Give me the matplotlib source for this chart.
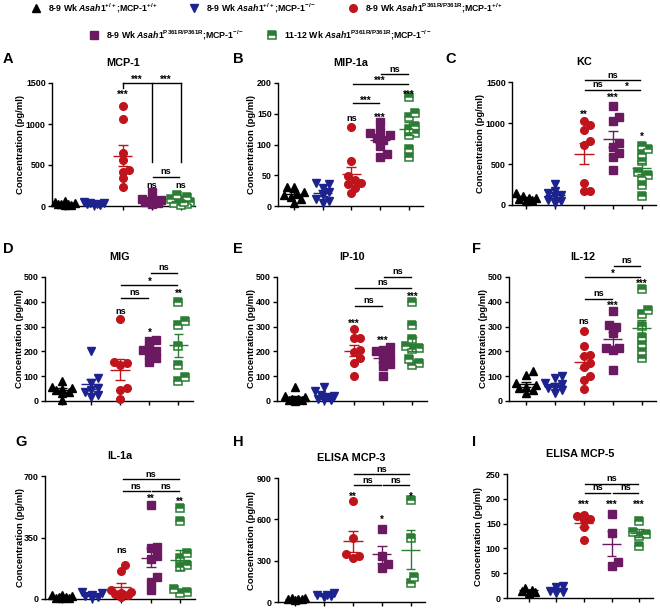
import numpy as np
import matplotlib
matplotlib.use('Agg')
import matplotlib.pyplot as plt
from matplotlib.lines import Line2D

plt.rcParams['font.family'] = ['Liberation Sans', 'DejaVu Sans']
plt.rcParams['font.weight'] = 'bold'
plt.rcParams['mathtext.fontset'] = 'custom'
plt.rcParams['mathtext.rm'] = 'Liberation Sans:bold'
plt.rcParams['mathtext.it'] = 'Liberation Sans:italic:bold'
plt.rcParams['mathtext.bf'] = 'Liberation Sans:bold'

# ---------------- groups ----------------
group_labels = [
    r"8-9 Wk $\mathit{Asah1}^{\mathrm{+/+}}$;MCP-1$^{\mathrm{+/+}}$",
    r"8-9 Wk $\mathit{Asah1}^{\mathrm{+/+}}$;MCP-1$^{\mathrm{-/-}}$",
    r"8-9 Wk $\mathit{Asah1}^{\mathrm{P361R/P361R}}$;MCP-1$^{\mathrm{+/+}}$",
    r"8-9 Wk $\mathit{Asah1}^{\mathrm{P361R/P361R}}$;MCP-1$^{\mathrm{-/-}}$",
    r"11-12 Wk $\mathit{Asah1}^{\mathrm{P361R/P361R}}$;MCP-1$^{\mathrm{-/-}}$",
]
group_colors = ['#000000', '#1c238f', '#c0141c', '#6b1a62', '#2b7d34']
group_markers = ['^', 'v', 'o', 's', 's']
group_ms = [5.8, 5.8, 5.5, 5.1, 5.3]

# ---------------- panels ----------------
panel_letters = ['A', 'B', 'C', 'D', 'E', 'F', 'G', 'H', 'I']
panel_titles = ['MCP-1', 'MIP-1a', 'KC', 'MIG', 'IP-10', 'IL-12', 'IL-1a',
                'ELISA MCP-3', 'ELISA MCP-5']
y_max = [1500, 200, 1500, 500, 500, 500, 700, 900, 250]
y_ticks = [[0, 500, 1000, 1500], [0, 50, 100, 150, 200], [0, 500, 1000, 1500],
           [0, 100, 200, 300, 400, 500], [0, 100, 200, 300, 400, 500],
           [0, 100, 200, 300, 400, 500], [0, 350, 700], [0, 300, 600, 900],
           [0, 50, 100, 150, 200, 250]]
y_label = 'Concentration (pg/ml)'

# ---------------- data (pg/ml), groups in order of group_labels ----------------
mcp1 = [[8, 15, 22, 30, 38, 50, 65, 20],
        [10, 18, 25, 32, 40, 48, 22],
        [1215, 1065, 652, 567, 445, 413, 336, 231],
        [166, 80, 65, 55, 45, 35, 70, 30],
        [140, 110, 90, 70, 50, 35, 20, 10, 45]]
mip1a = [[31, 31, 23, 18, 12, 5, 15, 20],
         [38, 35, 30, 22, 18, 12, 8, 5],
         [128, 73, 48, 42, 38, 35, 30, 21],
         [136, 122, 118, 116, 110, 108, 98, 85, 80],
         [177, 152, 144, 130, 126, 118, 115, 93, 79]]
kc = [[150, 110, 90, 80, 70, 60, 50],
      [260, 165, 145, 125, 105, 65, 45, 30],
      [1020, 976, 911, 776, 728, 268, 175, 167],
      [1211, 1069, 1024, 756, 703, 634, 585, 423],
      [715, 683, 622, 533, 407, 370, 337, 248, 106]]
mig = [[81, 58, 51, 47, 44, 38, 31, 5],
       [203, 92, 71, 51, 44, 38, 24, 18],
       [332, 156, 152, 146, 51, 44, 7],
       [247, 240, 213, 206, 200, 186, 173, 159],
       [399, 321, 307, 222, 146, 98, 80]]
ip10 = [[58, 20, 15, 10, 8, 5, 3, 2],
        [55, 40, 25, 20, 15, 10, 5, 3],
        [290, 253, 253, 206, 197, 173, 152, 101],
        [217, 206, 200, 182, 179, 150, 142, 101],
        [399, 307, 251, 220, 213, 209, 168, 152, 146]]
il12 = [[119, 105, 71, 65, 58, 51, 44, 31],
        [102, 92, 71, 70, 58, 51, 44, 31],
        [283, 222, 186, 182, 155, 139, 102, 85, 47],
        [361, 307, 300, 276, 213, 213, 206, 125],
        [453, 368, 350, 303, 260, 230, 202, 173]]
il1a = [[25, 20, 15, 12, 10, 8, 5, 3],
        [42, 32, 23, 17, 13, 4],
        [193, 159, 51, 42, 36, 28, 23, 13],
        [534, 297, 293, 246, 227, 127, 98, 51],
        [520, 445, 263, 236, 193, 184, 57, 42, 36]]
elisa_mcp3 = [[30, 28, 25, 22, 20, 18],
              [65, 53, 48, 41, 36],
              [733, 467, 350, 335, 320],
              [527, 334, 273, 250],
              [740, 462, 180, 140]]
elisa_mcp5 = [[20, 17, 15, 13, 11],
              [25, 22, 14, 12, 10],
              [167, 166, 160, 157, 144, 117],
              [170, 132, 72, 64],
              [156, 134, 130, 126, 105]]
panel_data = [mcp1, mip1a, kc, mig, ip10, il12, il1a, elisa_mcp3, elisa_mcp5]

# significance labels above groups: (group position, y, text)
group_sig = [
    [(3, 1390, '***'), (4, 255, 'ns'), (5, 255, 'ns')],
    [(3, 143, 'ns'), (4, 148, '***'), (5, 186, '***')],
    [(3, 1134, '**'), (4, 1345, '***'), (5, 866, '*')],
    [(3, 359, 'ns'), (4, 287, '*'), (5, 442, '**')],
    [(3, 321, '***'), (4, 253, '***'), (5, 433, '***')],
    [(3, 321, 'ns'), (4, 395, '***'), (5, 482, '***')],
    [(3, 274, 'ns'), (4, 586, '**'), (5, 566, '**')],
    [(3, 786, '**'), (4, 617, '*'), (5, 786, '*')],
    [(3, 193.5, '***'), (4, 193.5, '***'), (5, 193.5, '***')],
]
# comparison bars: (from group, to group, y, text)
pair_sig = [
    [(4, 5, 357, 'ns')],
    [(3, 4, 167, '***'), (3, 5, 198, '***'), (4, 5, 214, 'ns')],
    [(3, 4, 1406, 'ns'), (4, 5, 1406, '*'), (3, 5, 1520, 'ns')],
    [(3, 4, 415, 'ns'), (3, 5, 469, '*'), (4, 5, 516, 'ns')],
    [(3, 4, 384, 'ns'), (3, 5, 456, 'ns'), (4, 5, 500, 'ns')],
    [(3, 4, 413, 'ns'), (3, 5, 500, '*'), (4, 5, 546, 'ns')],
    [(3, 4, 613, 'ns'), (4, 5, 613, 'ns'), (3, 5, 681, 'ns')],
    [(3, 4, 846, 'ns'), (4, 5, 846, 'ns'), (3, 5, 926, 'ns')],
    [(3, 4, 212, 'ns'), (4, 5, 212, 'ns'), (3, 5, 230, 'ns')],
]

# ---------------- layout (pixels) ----------------
W, H = 660, 610
axes_px = [(52, 83, 195, 206), (278, 83, 423, 206), (512, 82, 656, 205),
           (45, 277, 193, 401), (277, 277, 427, 401), (509, 277, 656, 401),
           (45, 476, 195, 599), (278, 478, 425, 602), (507, 474, 653, 598)]
x_lo = [0.56, 0.44, 0.52, 0.41, 0.38, 0.41, 0.41, 0.41, 0.22]
letter_px = [(3, 59), (233, 59), (445, 59), (3, 249), (233, 249), (472, 249),
             (15, 442), (233, 442), (472, 442)]
ylabel_off = [31, 26, 31, 25, 25, 25, 24, 26, 28]

fig = plt.figure(figsize=(W / 100, H / 100), dpi=100)


def swarm(ax, xc, vals, diam=6.3, step=3.3, max_off=0.35):
    pts = ax.transData.transform(np.column_stack([np.full(len(vals), xc), vals]))
    ypix = pts[:, 1]
    px_per_x = ax.transData.transform([[1, 0]])[0, 0] - ax.transData.transform([[0, 0]])[0, 0]
    kmax = int(max_off * px_per_x / step)
    ks = [0]
    for k in range(1, kmax + 1):
        ks += [k, -k]
    order = np.argsort(vals)
    placed = []
    offs = np.zeros(len(vals))
    for i in order:
        best, best_d = 0, -1
        for k in ks:
            dx = k * step
            d = min([np.hypot(dx - px, ypix[i] - py) for px, py in placed] + [1e9])
            if d >= diam:
                best = dx
                break
            if d > best_d + 0.5:
                best, best_d = dx, d
        placed.append((best, ypix[i]))
        offs[i] = best / px_per_x
    return offs


for p in range(9):
    l, t, r, b = axes_px[p]
    ax = fig.add_axes([l / W, 1 - b / H, (r - l) / W, (b - t) / H])
    ax.set_xlim(x_lo[p], 5.5)
    ax.set_ylim(0, y_max[p])
    for s in ['top', 'right']:
        ax.spines[s].set_visible(False)
    for s in ['left', 'bottom']:
        ax.spines[s].set_linewidth(1.0)
    ax.set_xticks([1, 2, 3, 4, 5])
    ax.set_xticklabels([])
    ax.set_yticks(y_ticks[p])
    ax.tick_params(axis='both', length=3, width=1.0, labelsize=6.4, pad=1.5)
    for lab in ax.get_yticklabels():
        lab.set_fontweight('bold')
    ax.set_ylabel(y_label, fontsize=6.8, fontweight='bold')
    ax.yaxis.set_label_coords(-(ylabel_off[p] - 4) / (r - l), 0.5)

    for g in range(5):
        vals = np.array(panel_data[p][g], dtype=float)
        xc = g + 1
        offs = swarm(ax, xc, vals)
        c = group_colors[g]
        kw = dict(marker=group_markers[g], ms=group_ms[g], ls='none', color=c,
                  markeredgecolor=c, clip_on=False, zorder=3)
        if g == 4:
            kw.update(fillstyle='top', markerfacecolor=c, markerfacecoloralt='white',
                      markeredgewidth=1.1)
        ax.plot(xc + offs, vals, **kw)
        m = vals.mean()
        se = vals.std(ddof=1) / np.sqrt(len(vals))
        ax.hlines(m, xc - 0.34, xc + 0.34, color=c, lw=1.0, zorder=4, clip_on=False)
        ax.vlines(xc, m - se, m + se, color=c, lw=1.0, zorder=4, clip_on=False)
        ax.hlines([m - se, m + se], xc - 0.17, xc + 0.17, color=c, lw=1.0, zorder=4,
                  clip_on=False)

    for (gx, gy, txt) in group_sig[p]:
        dy = -2.0 if '*' in txt else 0
        ax.annotate(txt, (gx, gy), xytext=(0, dy), textcoords='offset points',
                    ha='center', va='center', fontsize=6.6 if txt == 'ns' else 7,
                    fontweight='bold', annotation_clip=False)

    for (a, bb, yy, txt) in pair_sig[p]:
        ax.plot([a + 0.04, bb - 0.04], [yy, yy], color='black', lw=1.0, clip_on=False)
        dy = -1.5 if '*' in txt else 0.5
        ax.annotate(txt, ((a + bb) / 2, yy), xytext=(0, dy), textcoords='offset points',
                    ha='center', va='bottom', fontsize=6.6 if txt == 'ns' else 7,
                    fontweight='bold', annotation_clip=False)

    if p == 0:
        top = y_max[0]
        ax.plot([3, 5], [top, top], color='black', lw=1.0, clip_on=False)
        ax.plot([3, 3], [top, top - 55], color='black', lw=1.0, clip_on=False)
        ax.plot([4, 4], [top, 540], color='black', lw=1.0, clip_on=False)
        ax.plot([5, 5], [top, 540], color='black', lw=1.0, clip_on=False)
        for xm in (3.5, 4.5):
            ax.annotate('***', (xm, top), xytext=(0, -1.5), textcoords='offset points',
                        ha='center', va='bottom', fontsize=7, fontweight='bold',
                        annotation_clip=False)

    fig.text((l + r) / 2 / W, 1 - (t - 20) / H, panel_titles[p], ha='center',
             va='center', fontsize=7.8, fontweight='bold')
    lx, ly = letter_px[p]
    fig.text(lx / W, 1 - ly / H, panel_letters[p], ha='left', va='center',
             fontsize=10.5, fontweight='bold')

# ---------------- legend ----------------
handles = []
for g in range(5):
    c = group_colors[g]
    kw = dict(marker=group_markers[g], ms=group_ms[g], ls='none', color=c,
              markeredgecolor=c)
    if g == 4:
        kw.update(fillstyle='top', markerfacecolor=c, markerfacecoloralt='white',
                  markeredgewidth=1.1)
    handles.append(Line2D([], [], **kw))

fig.legend(handles[:3], group_labels[:3], loc='center', bbox_to_anchor=(0.405, 1 - 8 / H),
           ncol=3, frameon=False, fontsize=6.3, handlelength=1.0, handletextpad=0.9,
           columnspacing=3.6, borderpad=0)
fig.legend(handles[3:], group_labels[3:], loc='center', bbox_to_anchor=(0.395, 1 - 35 / H),
           ncol=2, frameon=False, fontsize=6.3, handlelength=1.0, handletextpad=0.9,
           columnspacing=2.6, borderpad=0)

fig.savefig('out.png', dpi=100)
